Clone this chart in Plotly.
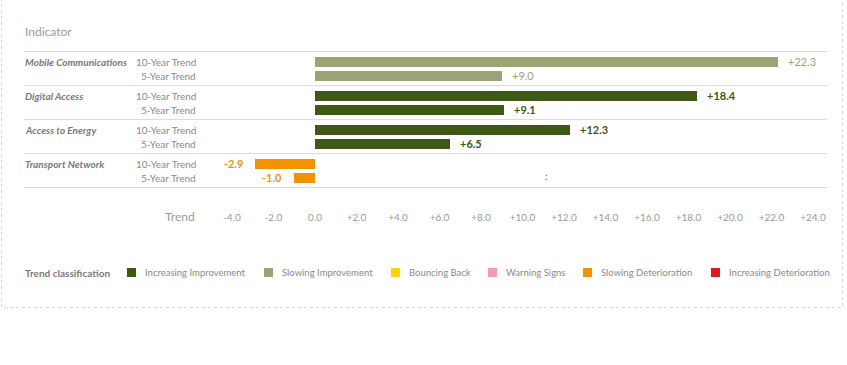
import plotly.graph_objects as go

# ---------------- data ----------------
indicators = ["Mobile Communications", "Digital Access", "Access to Energy", "Transport Network"]
trend_labels = ["10-Year Trend", "5-Year Trend"]
values_10y = [22.3, 18.4, 12.3, -2.9]
values_5y = [9.0, 9.1, 6.5, -1.0]
classes_10y = ["Slowing Improvement", "Increasing Improvement", "Increasing Improvement", "Slowing Deterioration"]
classes_5y = ["Slowing Improvement", "Increasing Improvement", "Increasing Improvement", "Slowing Deterioration"]
tick_values = [-4, -2, 0, 2, 4, 6, 8, 10, 12, 14, 16, 18, 20, 22, 24]
tick_text = ["-4.0", "-2.0", "0.0", "+2.0", "+4.0", "+6.0", "+8.0", "+10.0", "+12.0",
             "+14.0", "+16.0", "+18.0", "+20.0", "+22.0", "+24.0"]
legend_classes = ["Increasing Improvement", "Slowing Improvement", "Bouncing Back",
                  "Warning Signs", "Slowing Deterioration", "Increasing Deterioration"]
class_colors = ["#3e5815", "#9aa474", "#ffd200", "#f39bb5", "#f39200", "#e3161b"]

# ---------------- layout constants ----------------
W, H = 847, 365
L, R, T, B = 24, 20, 40, 155          # plot area: x 24..827, y 40..210
PLOT_W = W - L - R
PLOT_H = H - T - B
X0_PX, PX_PER_UNIT = 315, 20.75
x_range = [(L - X0_PX) / PX_PER_UNIT, (W - R - X0_PX) / PX_PER_UNIT]
y_range = [H - B, T]                  # y data unit == pixel

def px(xp):
    return (xp - L) / PLOT_W

def py(yp):
    return (H - B - yp) / PLOT_H

GROUP_TOP = 61.5
GROUP_STEP = 34
ROW_STEP = 14
BAR_H = 10

color_of = dict(zip(legend_classes, class_colors))
GRAY = "#8a8a8a"
FONT = "Lato"

fig = go.Figure()
annotations = []
shapes = []

for s, (vals, cls) in enumerate([(values_10y, classes_10y), (values_5y, classes_5y)]):
    ys = [GROUP_TOP + i * GROUP_STEP + s * ROW_STEP for i in range(len(indicators))]
    cols = [color_of[c] for c in cls]
    fig.add_trace(go.Bar(
        x=vals, y=ys, orientation="h", width=BAR_H,
        marker=dict(color=cols, line=dict(width=0)),
        showlegend=False, hoverinfo="x",
    ))
    for v, y, c in zip(vals, ys, cols):
        annotations.append(dict(
            x=v, y=y, xref="x", yref="y",
            text=("+%.1f" % v) if v >= 0 else ("%.1f" % v),
            showarrow=False, xanchor="left" if v >= 0 else "right",
            xshift=8 if v >= 0 else -10, yanchor="middle",
            font=dict(family=FONT, size=11, color=c,
                      weight=700 if c != color_of["Slowing Improvement"] else 400),
        ))
    for i, y in enumerate(ys):
        annotations.append(dict(
            x=px(198), y=y, xref="paper", yref="y", text=trend_labels[s],
            showarrow=False, xanchor="right", yanchor="middle",
            font=dict(family=FONT, size=10, color=GRAY),
        ))

for i, name in enumerate(indicators):
    annotations.append(dict(
        x=px(24), y=GROUP_TOP + i * GROUP_STEP, xref="paper", yref="y",
        text="<b><i>%s</i></b>" % name, showarrow=False,
        xanchor="left", yanchor="middle", xshift=-1,
        font=dict(family=FONT, size=10, color="#7a7a7a"),
    ))

# separators
for k in range(len(indicators) + 1):
    yl = GROUP_TOP - 10 + k * GROUP_STEP
    shapes.append(dict(type="line", xref="paper", yref="y", x0=0, x1=1, y0=yl, y1=yl,
                       line=dict(color="#dcdcdc", width=1)))

# missing value marker
annotations.append(dict(x=px(546), y=176, xref="paper", yref="y", text=":",
                        showarrow=False, font=dict(family=FONT, size=10, color="#555")))

# headers
annotations.append(dict(x=px(24), y=py(32), xref="paper", yref="paper", text="Indicator",
                        showarrow=False, xanchor="left", yanchor="middle", xshift=-1,
                        font=dict(family=FONT, size=12, color="#9a9a9a")))
annotations.append(dict(x=px(197), y=py(216), xref="paper", yref="paper", text="Trend",
                        showarrow=False, xanchor="right", yanchor="middle",
                        font=dict(family=FONT, size=12, color="#9a9a9a")))

# legend
annotations.append(dict(x=px(24), y=py(272.5), xref="paper", yref="paper",
                        text="<b>Trend classification</b>", showarrow=False,
                        xanchor="left", yanchor="middle", xshift=-1,
                        font=dict(family=FONT, size=10, color="#7a7a7a")))
legend_sq_x = [127, 264, 391, 488, 583, 711]
for name, col, sx in zip(legend_classes, class_colors, legend_sq_x):
    shapes.append(dict(type="rect", xref="paper", yref="paper",
                       x0=px(sx), x1=px(sx + 9), y0=py(277), y1=py(268),
                       fillcolor=col, line=dict(width=0)))
    annotations.append(dict(x=px(sx + 16), y=py(272.5), xref="paper", yref="paper",
                            text=name, showarrow=False, xanchor="left", yanchor="middle",
                            font=dict(family=FONT, size=9.5, color=GRAY)))

# dashed frame (left, bottom, right)
fx0, fx1, fy0, fy1 = px(1.5), px(842.5), py(-2), py(307.5)
shapes.append(dict(type="path", xref="paper", yref="paper",
                   path="M %f %f L %f %f L %f %f L %f %f" % (fx0, fy0, fx0, fy1, fx1, fy1, fx1, fy0),
                   line=dict(color="#d8d8d8", width=1, dash="dot")))

fig.update_layout(
    width=W, height=H, margin=dict(l=L, r=R, t=T, b=B),
    paper_bgcolor="white", plot_bgcolor="white",
    barmode="overlay", bargap=0,
    xaxis=dict(range=x_range, tickvals=tick_values, ticktext=tick_text,
               showgrid=False, zeroline=False, showline=False, ticks="",
               tickfont=dict(family=FONT, size=10, color="#9a9a9a"), fixedrange=True),
    yaxis=dict(range=y_range, showgrid=False, zeroline=False, showline=False,
               showticklabels=False, fixedrange=True),
    annotations=annotations, shapes=shapes, showlegend=False,
)

fig.write_html("out.html", config={"displayModeBar": False},
               post_script="document.body.style.margin='0';document.body.style.overflow='hidden';")
